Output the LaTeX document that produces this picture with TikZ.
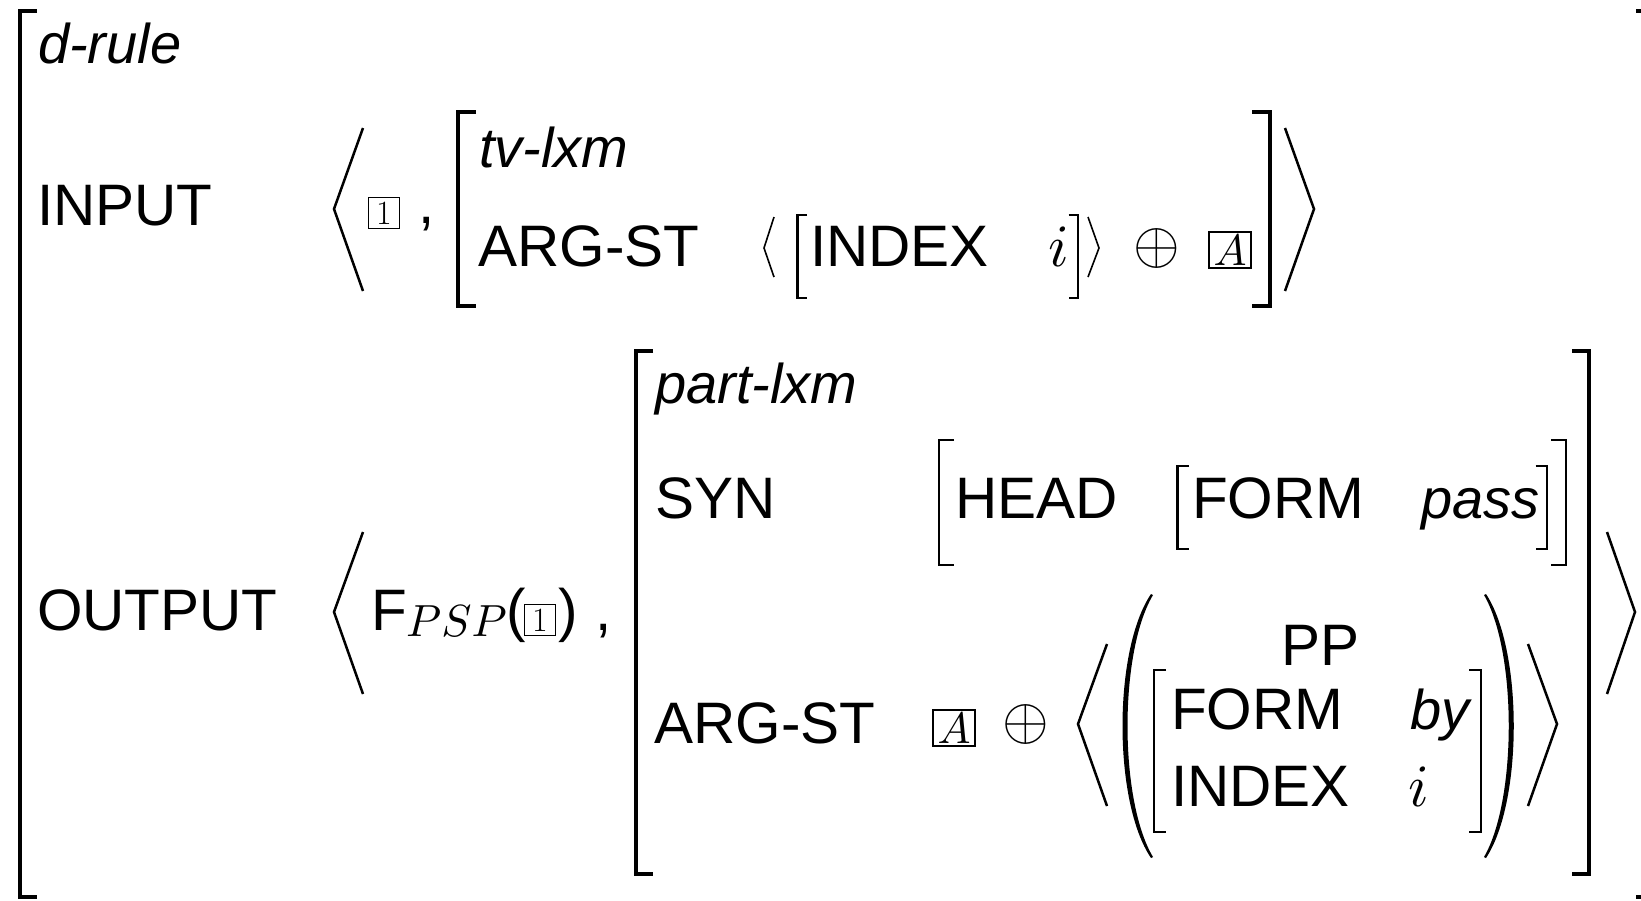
\documentclass[tikz,border=0pt]{standalone}
\usepackage{graphicx}
\usepackage[no-math]{fontspec}
\newfontfamily\hv{Liberation Sans}
\begin{document}
\begin{tikzpicture}[x=1pt,y=-1pt,
  av/.style={anchor=base west, inner sep=0pt, font=\hv\fontsize{58.5}{70}\selectfont},
  ty/.style={anchor=base west, inner sep=0pt, font=\hv\itshape\fontsize{56}{68}\selectfont},
  mth/.style={anchor=base west, inner sep=0pt},
  tagone/.style={draw, line width=1.2pt, inner sep=0pt, minimum width=31pt, minimum height=31pt, font=\fontsize{34}{40}\selectfont},
  tagA/.style={draw, line width=2pt, inner sep=0pt, minimum width=42pt, minimum height=36pt},
  bigbrk/.style={line width=4.5pt},
  midbrk/.style={line width=4pt},
  smbrk/.style={line width=2.4pt},
  ang/.style={line width=2.5pt, line join=miter},
  smang/.style={line width=1.6pt, line join=miter},
]
\useasboundingbox (0,0) rectangle (1641,900);
\clip (0,0) rectangle (1641,900);

% outer brackets
\draw[bigbrk] (37,11) -- (20,11) -- (20,897) -- (37,897);
\draw[bigbrk] (1636,11) -- (1653,11) -- (1653,897) -- (1636,897);

\node[ty] (drule) at (38,63) {d-rule};

% INPUT row
\node[av] (input) at (37,225) {INPUT};
\draw[ang] (363,128) -- (334,209) -- (363,291);
\node[tagone] (tin) at (384,213) {1};
\node[av] (comma1) at (418,223) {,};
\draw[midbrk] (476,112) -- (458,112) -- (458,306) -- (476,306);
\node[ty] (tvlxm) at (479,167) {tv-lxm};
\node[av] (argst1) at (478.5,266) {ARG-ST};
\draw[smang] (774,217) -- (764,248) -- (774,277);
\draw[smbrk] (807,215) -- (797.5,215) -- (797.5,298) -- (807,298);
\node[av] (index1) at (810,266) {INDEX};
\node[mth] (i1) at (1048,266) {\scalebox{6}{$i$}};
\draw[smbrk] (1068.5,215) -- (1078,215) -- (1078,298) -- (1068.5,298);
\draw[smang] (1088,217) -- (1099,248) -- (1088,277);
\node[mth, anchor=center] (oplus1) at (1157,248) {\scalebox{6}{$\oplus$}};
\node[tagA] (ta1) at (1230,250) {\scalebox{4.4}{$A$}};
\draw[midbrk] (1252,112) -- (1269.5,112) -- (1269.5,306) -- (1252,306);
\draw[ang] (1285,128) -- (1314,209) -- (1285,291);

% OUTPUT row
\node[av] (output) at (37,630) {OUTPUT};
\draw[ang] (363,532) -- (334,612) -- (363,694);
\node[av] (F) at (371,630) {F};
\node[mth] (psp) at (406,636) {\scalebox{4.5}{$PSP$}};
\node[av] (lp) at (506,630) {(};
\node[tagone] (tout) at (540,620) {1};
\node[av] (rp) at (558,630) {)};
\node[av] (comma2) at (595,630) {,};
\draw[bigbrk] (653,351) -- (636,351) -- (636,874) -- (653,874);
\node[ty] (partlxm) at (655,403) {part-lxm};
\node[av] (syn) at (655,518) {SYN};
\draw[smbrk] (954,440) -- (939,440) -- (939,565) -- (954,565);
\node[av] (head) at (955,518) {HEAD};
\draw[smbrk] (1189,466) -- (1177.5,466) -- (1177.5,549) -- (1189,549);
\node[av] (form1) at (1192,518) {FORM};
\node[ty] (pass) at (1421,518) {pass};
\draw[smbrk] (1535.5,466) -- (1547,466) -- (1547,549) -- (1535.5,549);
\draw[smbrk] (1551,440) -- (1566,440) -- (1566,565) -- (1551,565);
\node[av] (argst2) at (654.5,743) {ARG-ST};
\node[tagA] (ta2) at (954,728) {\scalebox{4.4}{$A$}};
\node[mth, anchor=center] (oplus2) at (1026,724) {\scalebox{6}{$\oplus$}};
\draw[ang] (1107,644) -- (1078,724) -- (1107,806);
\fill (1151,594) .. controls (1113,650) and (1113,802) .. (1151,858) -- (1153,857) .. controls (1119,800) and (1119,652) .. (1153,595) -- cycle;
\node[av] (pp) at (1281,665) {PP};
\draw[smbrk] (1166,670) -- (1154,670) -- (1154,832) -- (1166,832);
\node[av] (form2) at (1171,729) {FORM};
\node[ty] (by) at (1410,729) {by};
\node[av] (index2) at (1171,806) {INDEX};
\node[mth] (i2) at (1408,806) {\scalebox{6}{$i$}};
\draw[smbrk] (1469,670) -- (1481,670) -- (1481,832) -- (1469,832);
\fill (1486,594) .. controls (1523,650) and (1523,802) .. (1486,858) -- (1484,857) .. controls (1517,800) and (1517,652) .. (1484,595) -- cycle;
\draw[ang] (1528,644) -- (1557,724) -- (1528,806);
\draw[bigbrk] (1572,351) -- (1589,351) -- (1589,874) -- (1572,874);
\draw[ang] (1607,532) -- (1635,612) -- (1607,694);
\end{tikzpicture}
\end{document}
